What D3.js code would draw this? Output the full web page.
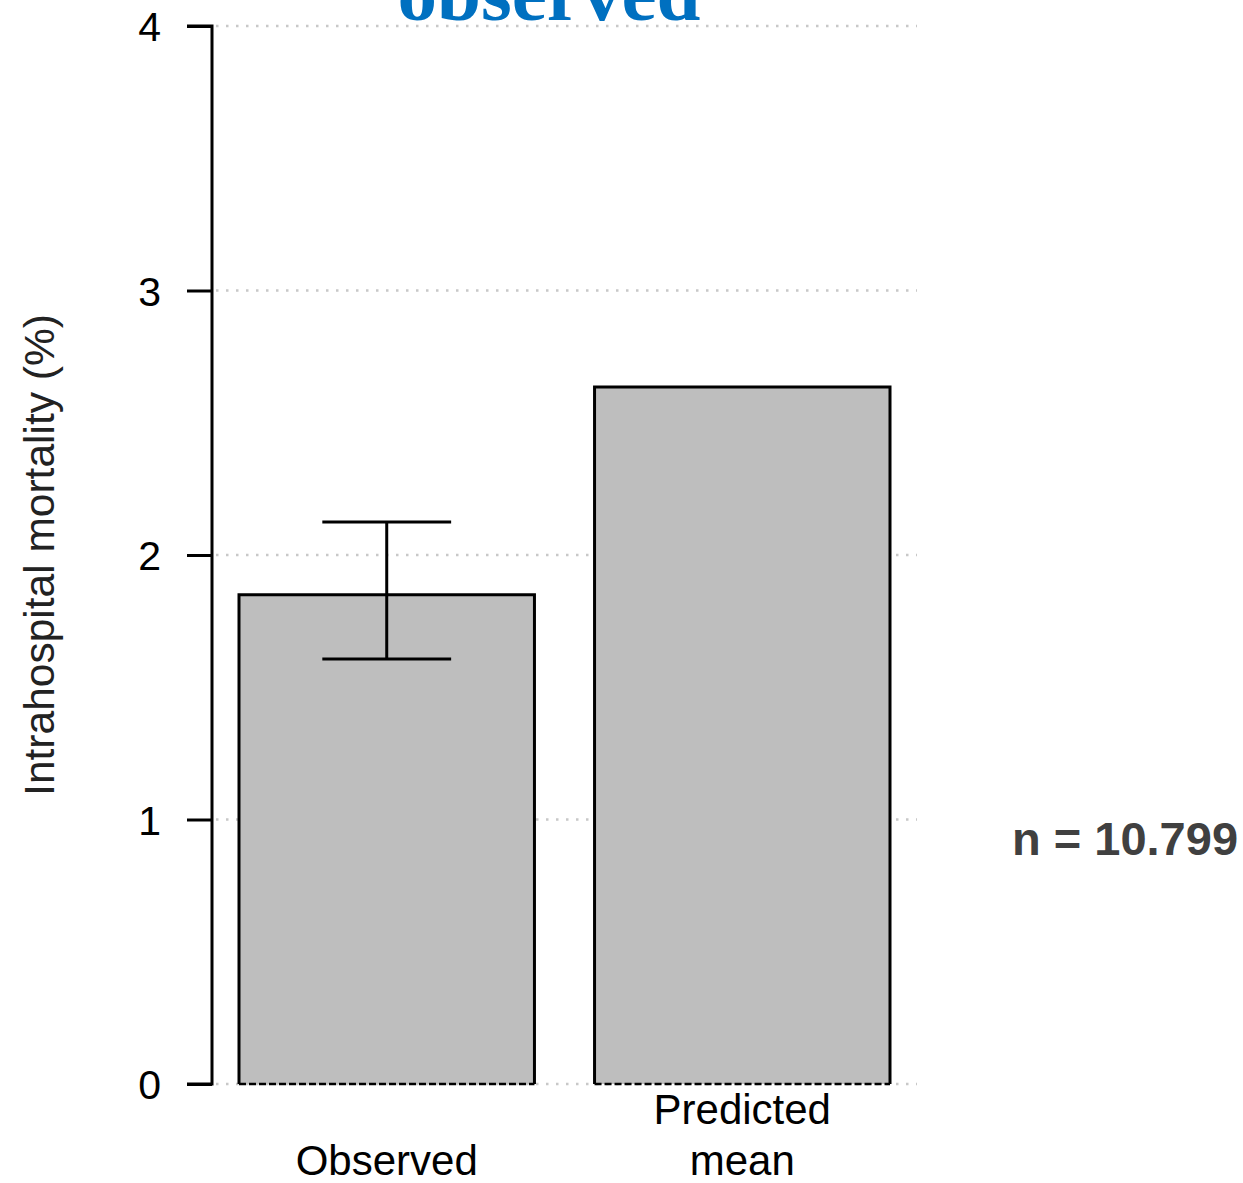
<!DOCTYPE html>
<html>
<head>
<meta charset="utf-8">
<script src="https://cdn.jsdelivr.net/npm/d3@7"></script>
<style>
  html, body { margin: 0; padding: 0; background: #fff; }
  svg { display: block; }
</style>
</head>
<body>
<svg id="chart" width="1243" height="1183"></svg>
<script>
const categories = ["Observed", "Predicted mean"];
const categoryLines = [["Observed"], ["Predicted", "mean"]];
const values = [1.85, 2.635];
const errLow = [1.607, null];
const errHigh = [2.125, null];
const yTicks = [0, 1, 2, 3, 4];
const titleText = "observed";
const yLabel = "Intrahospital mortality (%)";
const noteText = "n = 10.799";

const svg = d3.select("#chart");
const y = d3.scaleLinear().domain([0, 4]).range([1084, 26]);
const x = d3.scaleBand().domain(categories).range([239, 890]).paddingInner(0.169).paddingOuter(0);

// gridlines
svg.append("g").selectAll("line").data(yTicks).join("line")
  .attr("x1", 216).attr("x2", 917)
  .attr("y1", d => y(d)).attr("y2", d => y(d))
  .attr("stroke", "#c8c8c8").attr("stroke-width", 2.5)
  .attr("stroke-dasharray", "2.5,7.5");

// y axis
const yAxis = d3.axisLeft(y).tickValues(yTicks).tickSize(25).tickPadding(26).tickFormat(d3.format("d"));
const gAxis = svg.append("g").attr("transform", "translate(212,0)").call(yAxis);
gAxis.select(".domain").attr("d", `M-25,${y(4)}H0V${y(0)}H-25`).attr("stroke", "#000").attr("stroke-width", 3).attr("fill", "none");
gAxis.selectAll(".tick line").attr("stroke", "#000").attr("stroke-width", 3);
gAxis.selectAll(".tick text").attr("font-family", "'Liberation Sans', Arial, sans-serif").attr("font-size", 41).attr("fill", "#000").attr("dy", "0.36em");

// bars
const bars = svg.append("g");
bars.selectAll("path.bar").data(categories).join("path").attr("class", "bar")
  .attr("d", (c, i) => `M${x(c)},${y(0)}V${y(values[i])}H${x(c) + x.bandwidth()}V${y(0)}`)
  .attr("fill", "#bebebe").attr("stroke", "#000").attr("stroke-width", 3);
bars.selectAll("line.base").data(categories).join("line").attr("class", "base")
  .attr("x1", c => x(c)).attr("x2", c => x(c) + x.bandwidth())
  .attr("y1", y(0)).attr("y2", y(0))
  .attr("stroke", "#000").attr("stroke-width", 2.5).attr("stroke-dasharray", "7,3");

// error bars
const errData = categories.map((c, i) => ({c, lo: errLow[i], hi: errHigh[i]})).filter(d => d.lo != null);
const eg = svg.append("g").attr("stroke", "#000").attr("stroke-width", 3);
errData.forEach(d => {
  const cx = x(d.c) + x.bandwidth() / 2;
  const hw = x.bandwidth() * 0.218;
  eg.append("line").attr("x1", cx).attr("x2", cx).attr("y1", y(d.hi)).attr("y2", y(d.lo));
  eg.append("line").attr("x1", cx - hw).attr("x2", cx + hw).attr("y1", y(d.hi)).attr("y2", y(d.hi));
  eg.append("line").attr("x1", cx - hw).attr("x2", cx + hw).attr("y1", y(d.lo)).attr("y2", y(d.lo));
});

// category labels (bottom aligned)
categoryLines.forEach((lines, i) => {
  const cx = x(categories[i]) + x.bandwidth() / 2;
  const t = svg.append("text").attr("text-anchor", "middle")
    .attr("font-family", "'Liberation Sans', Arial, sans-serif").attr("font-size", 42).attr("fill", "#000");
  lines.forEach((ln, j) => {
    t.append("tspan").attr("x", cx).attr("y", 1175 - (lines.length - 1 - j) * 51).text(ln);
  });
});

// y label
svg.append("text")
  .attr("transform", "translate(54,555) rotate(-90)")
  .attr("text-anchor", "middle")
  .attr("font-family", "'Liberation Sans', Arial, sans-serif").attr("font-size", 42.5).attr("fill", "#222")
  .text(yLabel);

// title (clipped at top, as in the reference)
svg.append("text")
  .attr("x", 549).attr("y", 20).attr("text-anchor", "middle")
  .attr("font-family", "'Liberation Serif', 'Times New Roman', serif").attr("font-weight", "bold")
  .attr("font-size", 79).attr("fill", "#0070c0")
  .text(titleText);

// note
svg.append("text")
  .attr("x", 1012).attr("y", 855)
  .attr("font-family", "'Liberation Sans', Arial, sans-serif").attr("font-weight", "bold")
  .attr("font-size", 47).attr("fill", "#404040")
  .text(noteText);
</script>
</body>
</html>
